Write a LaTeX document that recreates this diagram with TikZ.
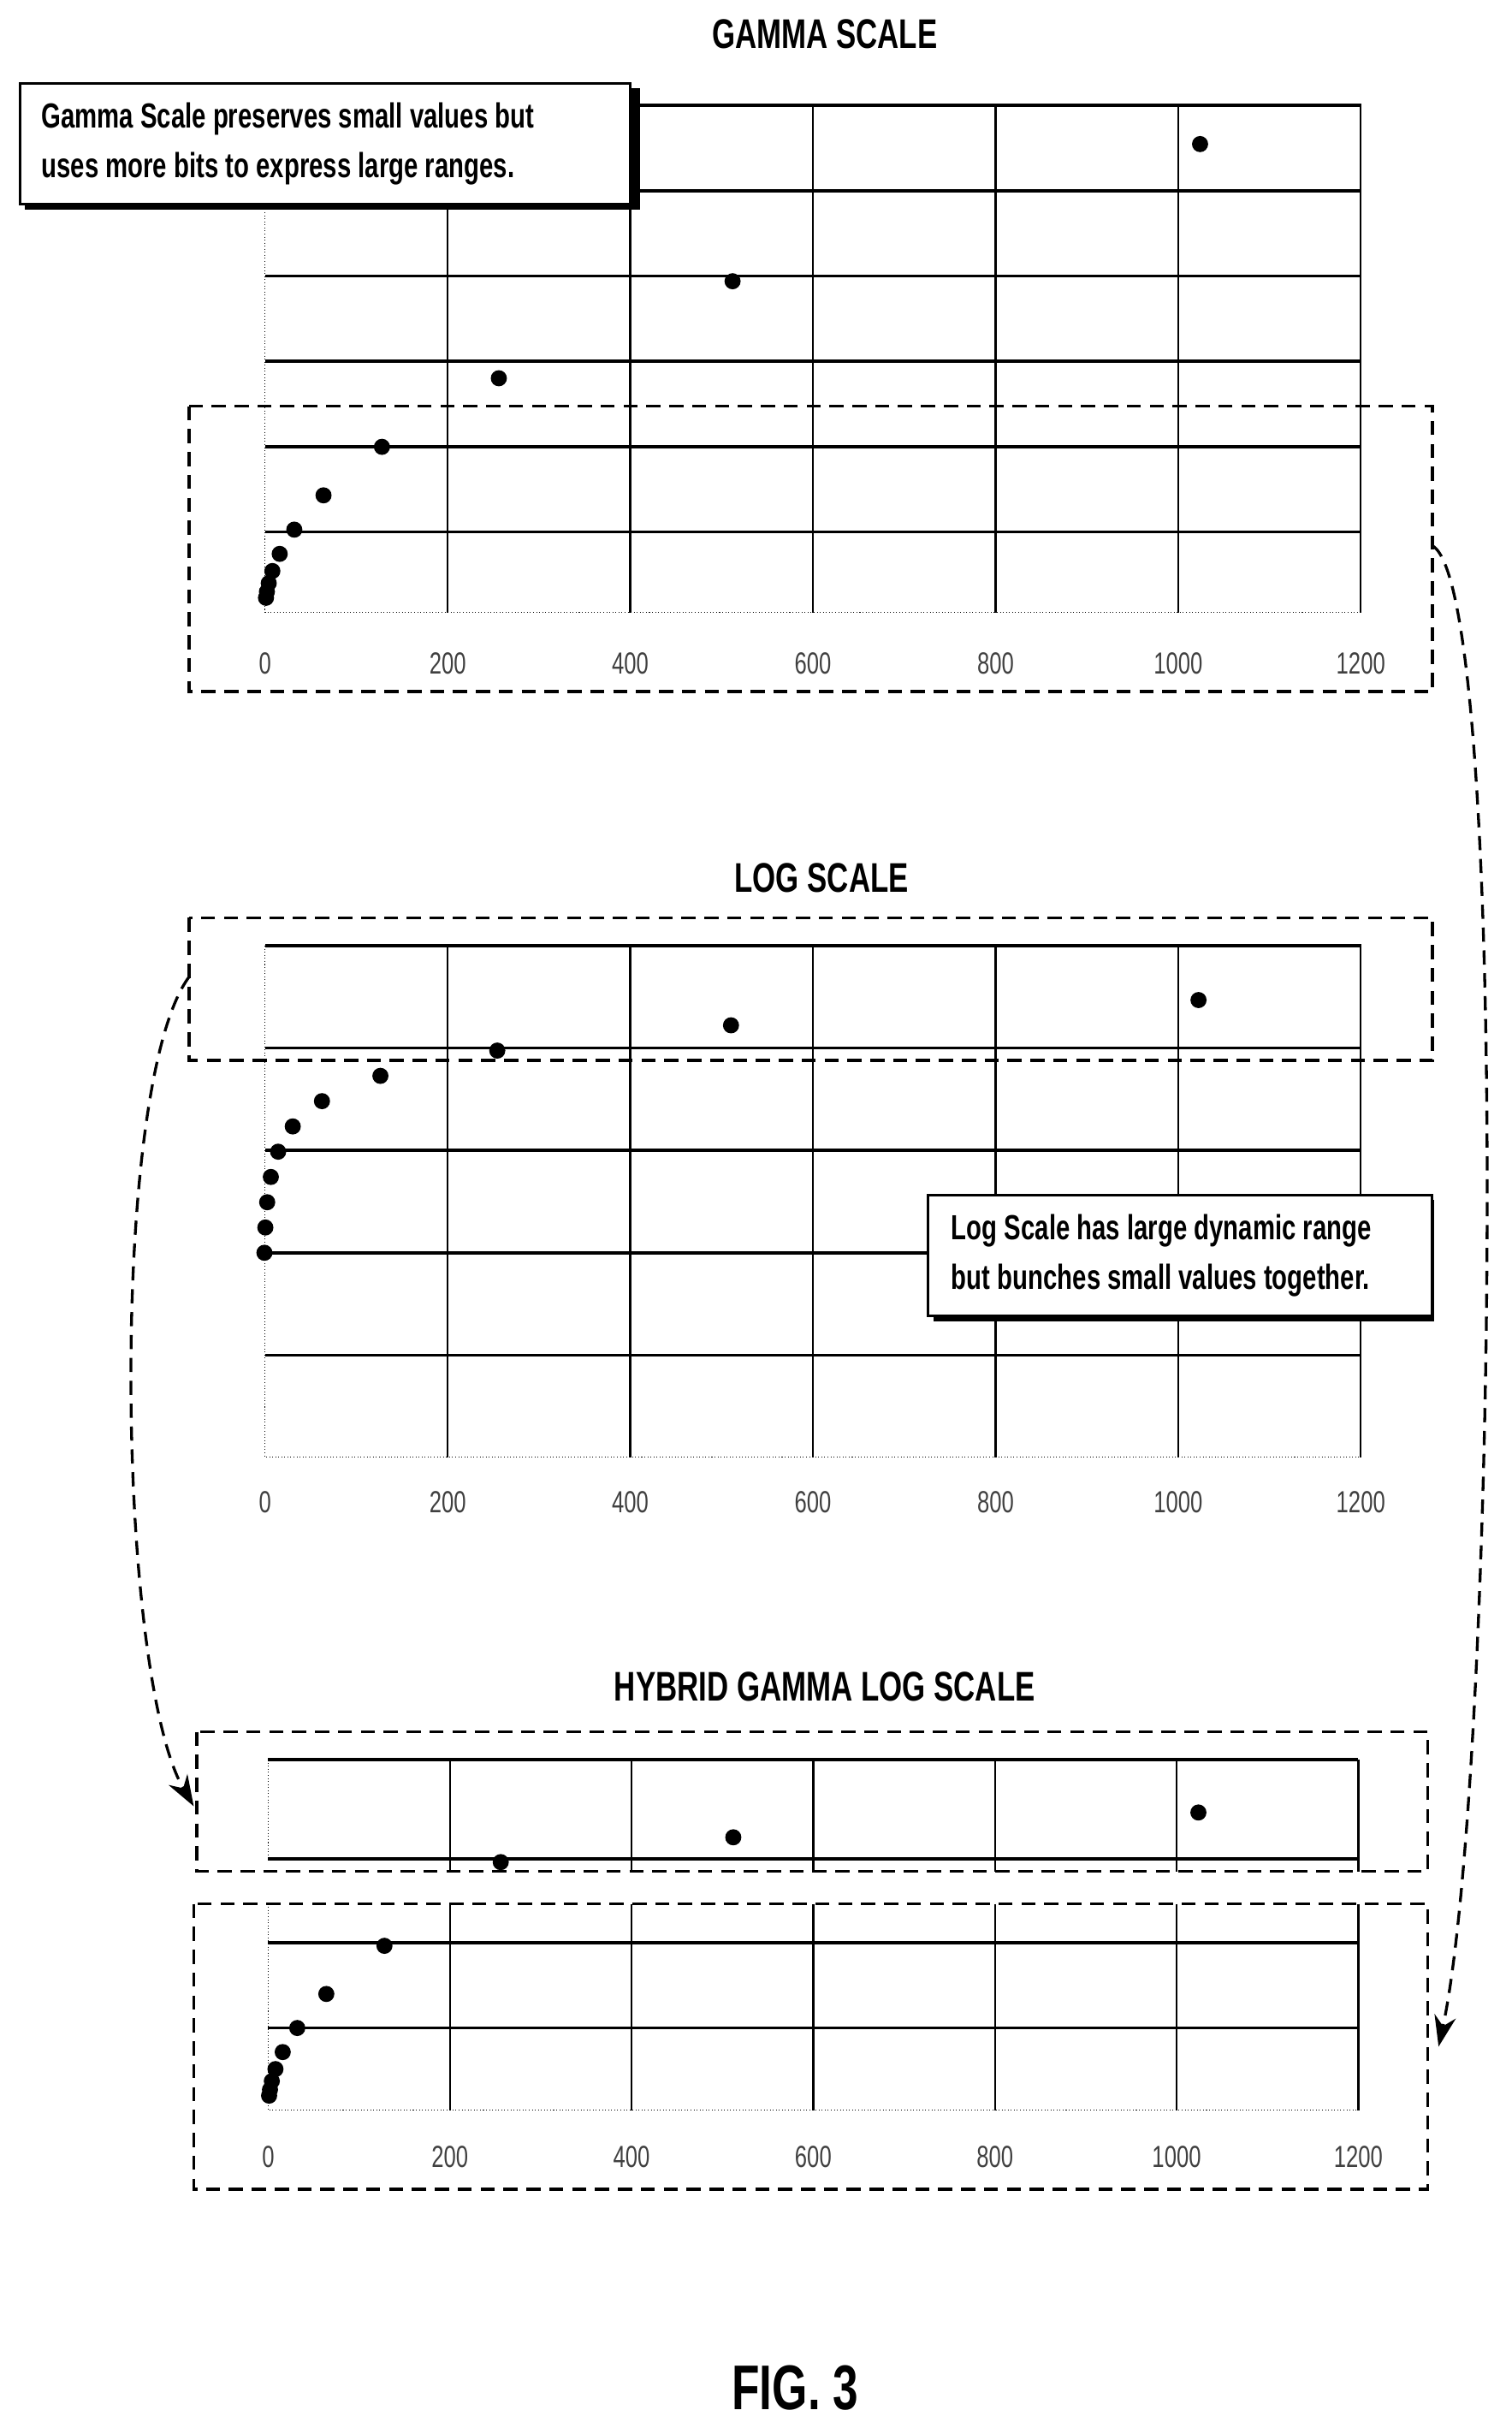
\documentclass[tikz,border=0pt]{standalone}
\usepackage{fontspec}
\setmainfont{Liberation Sans}[FakeStretch=0.72]
\usetikzlibrary{arrows.meta}
\tikzset{
  hline/.style={line width=2.8pt},
  vline/.style={line width=1.8pt},
  axisline/.style={line width=0.8pt, dotted},
  dotpt/.style={circle, fill=black, inner sep=0pt, minimum size=0.52cm},
  zonebox/.style={line width=2.8pt, dash pattern=on 13pt off 8pt},
  callout/.style={draw, line width=2.2pt, fill=white, align=flush left, inner ysep=0.45cm,
    font=\bfseries\fontsize{32}{45}\selectfont},
  ticklbl/.style={font=\fontsize{28}{30}\selectfont, text=black!75},
  charttitle/.style={font=\bfseries\fontsize{38}{44}\selectfont},
  link/.style={line width=2.6pt, dash pattern=on 13pt off 8pt, -{Stealth[length=1cm,width=0.7cm]}}
}
\begin{document}
\begin{tikzpicture}[x=0.05cm, y=-0.05cm]
  \useasboundingbox (0,0) rectangle (975,1566);

  % gamma scale
  \node[charttitle] (t1) at (532,22) {GAMMA SCALE};
  \foreach \y in {68,123,178,233,288,343}
    \draw[hline] (171,\y) -- (878,\y);
  \foreach \i in {1,...,6}
    \draw[vline] ({171+\i*117.8},68) -- ({171+\i*117.8},395);
  \draw[axisline] (171,68) -- (171,395) -- (878,395);
  \foreach \v/\l in {0/0,1/200,2/400,3/600,4/800,5/1000,6/1200}
    \node[ticklbl] (ga\v) at ({171+\v*117.8},428) {\l};
  \foreach \k in {0,...,10}{
    \pgfmathsetmacro{\val}{2^\k}
    \node[dotpt] (g\k) at ({171+\val*0.589},{395-9.44*sqrt(\val)}) {};
  }
  \fill (16,57) rectangle (413,135);
  \node[callout, anchor=north west, text width=18.3cm, minimum height=3.9cm, inner xsep=0.7cm] (c1) at (12,53)
    {Gamma Scale preserves small values but\\uses more bits to express large ranges.};
  \draw[zonebox] (122,262) rectangle (924,446);
  \coordinate (z1) at (924,352);

  % log scale
  \node[charttitle] (t2) at (530,566) {LOG SCALE};
  \foreach \y in {610,676,742,808,874}
    \draw[hline] (171,\y) -- (878,\y);
  \foreach \i in {1,...,6}
    \draw[vline] ({171+\i*117.8},610) -- ({171+\i*117.8},940);
  \draw[axisline] (171,610) -- (171,940) -- (878,940);
  \foreach \v/\l in {0/0,1/200,2/400,3/600,4/800,5/1000,6/1200}
    \node[ticklbl] (la\v) at ({171+\v*117.8},969) {\l};
  \foreach \k in {0,...,10}{
    \pgfmathsetmacro{\val}{2^\k}
    \node[dotpt] (l\k) at ({170+\val*0.589},{808-16.3*\k}) {};
  }
  \fill (602,774) rectangle (925,852);
  \node[callout, anchor=north west, text width=14.75cm, minimum height=3.9cm, inner xsep=0.75cm] (c2) at (598,770)
    {Log Scale has large dynamic range\\but bunches small values together.};
  \draw[zonebox] (122,592) rectangle (924,684);
  \coordinate (z2) at (122,630);

  % hybrid gamma log scale
  \node[charttitle] (t3) at (532,1088) {HYBRID GAMMA LOG SCALE};
  \foreach \y in {1135,1199}
    \draw[hline] (173,\y) -- (876,\y);
  \foreach \i in {1,...,6}
    \draw[vline] ({173+\i*117.2},1135) -- ({173+\i*117.2},1207);
  \draw[axisline] (173,1135) -- (173,1199);
  \foreach \k in {8,9,10}{
    \pgfmathsetmacro{\val}{2^\k}
    \node[dotpt] (h\k) at ({173+\val*0.586},{1201-16*(\k-8)}) {};
  }
  \draw[zonebox] (127,1117) rectangle (921,1207);
  \coordinate (z3) at (125,1165);

  \foreach \y in {1253,1308}
    \draw[hline] (173,\y) -- (876,\y);
  \foreach \i in {1,...,6}
    \draw[vline] ({173+\i*117.2},1228) -- ({173+\i*117.2},1361);
  \draw[axisline] (173,1228) -- (173,1361) -- (876,1361);
  \foreach \v/\l in {0/0,1/200,2/400,3/600,4/800,5/1000,6/1200}
    \node[ticklbl] (ha\v) at ({173+\v*117.2},1391) {\l};
  \foreach \k in {0,...,7}{
    \pgfmathsetmacro{\val}{2^\k}
    \node[dotpt] (b\k) at ({173+\val*0.586},{1361-9.37*sqrt(\val)}) {};
  }
  \draw[zonebox] (125,1228) rectangle (921,1412);
  \coordinate (z4) at (928,1320);

  % links
  \draw[link] (z2) .. controls (70,700) and (75,1080) .. (z3);
  \draw[link] (z1) .. controls (975,380) and (965,1150) .. (z4);

  \node[font=\bfseries\fontsize{58}{64}\selectfont] (fig) at (513,1540) {FIG. 3};
\end{tikzpicture}
\end{document}
